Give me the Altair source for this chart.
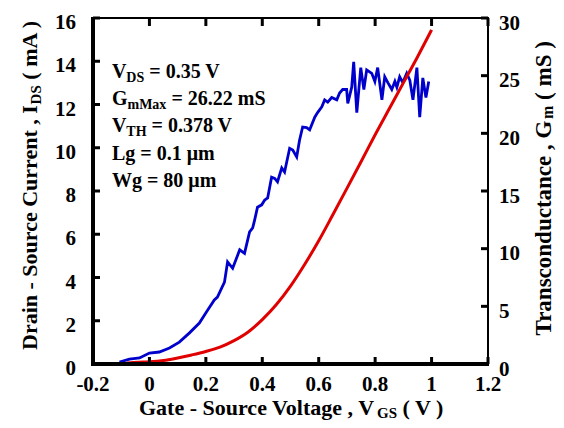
import altair as alt
import pandas as pd

# ---- data ----
vgs_ids = [-0.08, -0.04, 0.0, 0.05, 0.10, 0.15, 0.20, 0.25, 0.30, 0.35, 0.40, 0.45,
           0.50, 0.55, 0.60, 0.65, 0.70, 0.75, 0.80, 0.85, 0.90, 0.95, 1.00]
ids_ma = [0.05, 0.08, 0.10, 0.16, 0.28, 0.42, 0.58, 0.78, 1.08, 1.48, 2.05, 2.75,
          3.60, 4.60, 5.70, 6.90, 8.12, 9.35, 10.60, 11.80, 13.00, 14.20, 15.45]

vgs_gm = [-0.106, -0.071, -0.035, 0.000, 0.035, 0.071, 0.106, 0.142, 0.177, 0.202,
          0.230, 0.241, 0.266, 0.277, 0.295, 0.320, 0.337, 0.355, 0.366, 0.373,
          0.383, 0.398, 0.408, 0.419, 0.433, 0.444, 0.454, 0.469, 0.479, 0.497,
          0.508, 0.522, 0.532, 0.543, 0.557, 0.568, 0.586, 0.596, 0.611, 0.621,
          0.632, 0.646, 0.664, 0.674, 0.685, 0.699, 0.703, 0.717, 0.724, 0.735,
          0.749, 0.760, 0.770, 0.788, 0.799, 0.809, 0.824, 0.834, 0.845, 0.859,
          0.870, 0.877, 0.887, 0.898, 0.912, 0.923, 0.934, 0.948, 0.958, 0.969,
          0.980, 0.990]
gm_ms = [0.17, 0.43, 0.52, 0.95, 1.04, 1.39, 1.90, 2.70, 3.55, 4.50,
         5.55, 5.80, 7.10, 8.85, 8.30, 9.90, 9.60, 11.45, 11.8, 12.5,
         13.6, 13.8, 14.2, 14.4, 16.2, 16.1, 15.8, 17.0, 16.65, 18.7,
         18.55, 17.95, 19.4, 20.55, 20.5, 20.3, 21.4, 21.8, 22.3, 22.9,
         22.7, 23.1, 22.9, 23.5, 23.8, 23.8, 22.6, 24.0, 26.2, 21.8,
         25.7, 23.8, 25.5, 25.2, 24.5, 25.7, 22.9, 24.9, 24.4, 23.8,
         24.5, 24.0, 24.9, 24.4, 25.2, 24.6, 22.9, 25.7, 21.4, 24.8,
         23.1, 24.5]

x_ticks = [-0.2, 0, 0.2, 0.4, 0.6, 0.8, 1.0, 1.2]
x_labels = ["-0.2", "0", "0.2", "0.4", "0.6", "0.8", "1", "1.2"]
ids_ticks = [0, 2, 4, 6, 8, 10, 12, 14, 16]
ids_labels = ["0", "2", "4", "6", "8", "10", "12", "14", "16"]
gm_ticks = [0, 5, 10, 15, 20, 25, 30]
gm_labels = ["0", "5", "10", "15", "20", "25", "30"]

# annotation block: one row per line, split into main letter / subscript / rest
ann_x = -0.133                                   # left edge of the block (V)
ann_y = [13.22, 11.98, 10.73, 9.43, 8.19]        # baselines (mA)
ann_main = ["V", "G", "V", "Lg = 0.1 \u03bcm", "Wg = 80 \u03bcm"]
ann_sub = ["DS", "mMax", "TH", "", ""]
ann_rest = ["= 0.35 V", "= 26.22 mS", "= 0.378 V", "", ""]
sub_shift = [0.0510, 0.0552, 0.0510, 0, 0]       # start of subscript after main (V)
rest_shift = [0.1323, 0.2109, 0.1404, 0, 0]      # start of rest after main (V)

FONT = "Liberation Serif"
W, H = 395, 346
RED = "#e00000"
BLUE = "#0000cc"

xscale = alt.Scale(domain=[-0.2, 1.2], nice=False, zero=False)
iscale = alt.Scale(domain=[0, 16], nice=False, zero=False)
gscale = alt.Scale(domain=[0, 30], nice=False, zero=False)

df_ids = pd.DataFrame({"v": vgs_ids, "i": ids_ma})
df_gm = pd.DataFrame({"v": vgs_gm, "g": gm_ms})
df_xt = pd.DataFrame({"t": x_ticks, "lab": x_labels})
df_it = pd.DataFrame({"t": ids_ticks, "lab": ids_labels})
df_gt = pd.DataFrame({"t": gm_ticks, "lab": gm_labels})
df_ann = pd.DataFrame({
    "x": [ann_x] * len(ann_y),
    "xs": [ann_x + s for s in sub_shift],
    "xr": [ann_x + s for s in rest_shift],
    "y": ann_y,
    "main": ann_main,
    "sub": ann_sub,
    "rest": ann_rest,
})

txt = dict(font=FONT, fontWeight="bold", baseline="alphabetic", color="black")

X = lambda f: alt.X(f, scale=xscale, axis=None)
YI = lambda f: alt.Y(f, scale=iscale, axis=None)
YG = lambda f: alt.Y(f, scale=gscale, axis=None)

# ---- right-axis group (transconductance) ----
blue_line = alt.Chart(df_gm).mark_line(color=BLUE, strokeWidth=2.8).encode(
    x=X("v:Q"), y=YG("g:Q"),
)
right_ticks = alt.Chart(df_gt).mark_rule(color="black", strokeWidth=3).encode(
    y=YG("t:Q"), x=alt.value(W - 7), x2=alt.value(W),
)
right_labels = alt.Chart(df_gt).mark_text(fontSize=21, align="left", dx=11, dy=11.5, **txt).encode(
    y=YG("t:Q"), x=alt.value(W), text="lab:N",
)
right_group = alt.layer(blue_line, right_ticks, right_labels)

# ---- left-axis group (drain current) ----
red_line = alt.Chart(df_ids).mark_line(color=RED, strokeWidth=3, interpolate="monotone").encode(
    x=X("v:Q"), y=YI("i:Q"),
)
left_ticks = alt.Chart(df_it).mark_rule(color="black", strokeWidth=3).encode(
    y=YI("t:Q"), x=alt.value(0), x2=alt.value(7),
)
left_labels = alt.Chart(df_it).mark_text(fontSize=21, align="right", dx=-17, dy=11, **txt).encode(
    y=YI("t:Q"), x=alt.value(0), text="lab:N",
)
bottom_ticks = alt.Chart(df_xt).mark_rule(color="black", strokeWidth=3).encode(
    x=X("t:Q"), y=alt.value(H), y2=alt.value(H - 7),
)
top_ticks = alt.Chart(df_xt).mark_rule(color="black", strokeWidth=3).encode(
    x=X("t:Q"), y=alt.value(0), y2=alt.value(8),
)
bottom_labels = alt.Chart(df_xt).mark_text(fontSize=21, align="center", **txt).encode(
    x=X("t:Q"), y=alt.value(H + 27), text="lab:N",
)
# thicker left and bottom frame lines
left_frame = alt.Chart(df_it).mark_rule(color="black", strokeWidth=3).encode(
    x=alt.value(0), y=alt.value(-1), y2=alt.value(H + 1.5),
)
bottom_frame = alt.Chart(df_xt).mark_rule(color="black", strokeWidth=3).encode(
    y=alt.value(H), x=alt.value(-1.5), x2=alt.value(W + 1),
)

ann_main_l = alt.Chart(df_ann).mark_text(fontSize=20, align="left", **txt).encode(
    x=X("x:Q"), y=YI("y:Q"), text="main:N",
)
ann_sub_l = alt.Chart(df_ann).mark_text(fontSize=14, align="left", dy=4, **txt).encode(
    x=X("xs:Q"), y=YI("y:Q"), text="sub:N",
)
ann_rest_l = alt.Chart(df_ann).mark_text(fontSize=20, align="left", **txt).encode(
    x=X("xr:Q"), y=YI("y:Q"), text="rest:N",
)


def seg(text, x, y, size, angle=0):
    return alt.Chart(pd.DataFrame({"t": [text]})).mark_text(
        fontSize=size, angle=angle, align="left", **txt
    ).encode(x=alt.value(x), y=alt.value(y), text="t:N")


titles = [
    # x axis title
    seg("Gate - Source Voltage , V", 46, 397, 22),
    seg("GS", 284, 400, 15),
    seg("( V )", 309.5, 397, 22),
    # left axis title (rotated)
    seg("Drain - Source Current , I", -56, 332, 22, 270),
    seg("DS", -52, 86.4, 15, 270),
    seg("( mA )", -56, 61.7, 22, 270),
    # right axis title (rotated)
    seg("Transconductance , G", 458, 317.5, 23, 270),
    seg("m", 459.5, 100.9, 16, 270),
    seg("( mS )", 458, 81.9, 23, 270),
]

left_group = alt.layer(red_line, left_ticks, left_labels, bottom_ticks, top_ticks,
                       bottom_labels, left_frame, bottom_frame,
                       ann_main_l, ann_sub_l, ann_rest_l, *titles)

chart = alt.layer(right_group, left_group).resolve_scale(y="independent").properties(
    width=W, height=H,
    padding={"left": 85, "top": 10, "right": 68, "bottom": 56},
    autosize=alt.AutoSizeParams(type="none"),
).configure_view(stroke="black", strokeWidth=2)

chart.save("out.html", embed_options={"renderer": "svg", "actions": False})
